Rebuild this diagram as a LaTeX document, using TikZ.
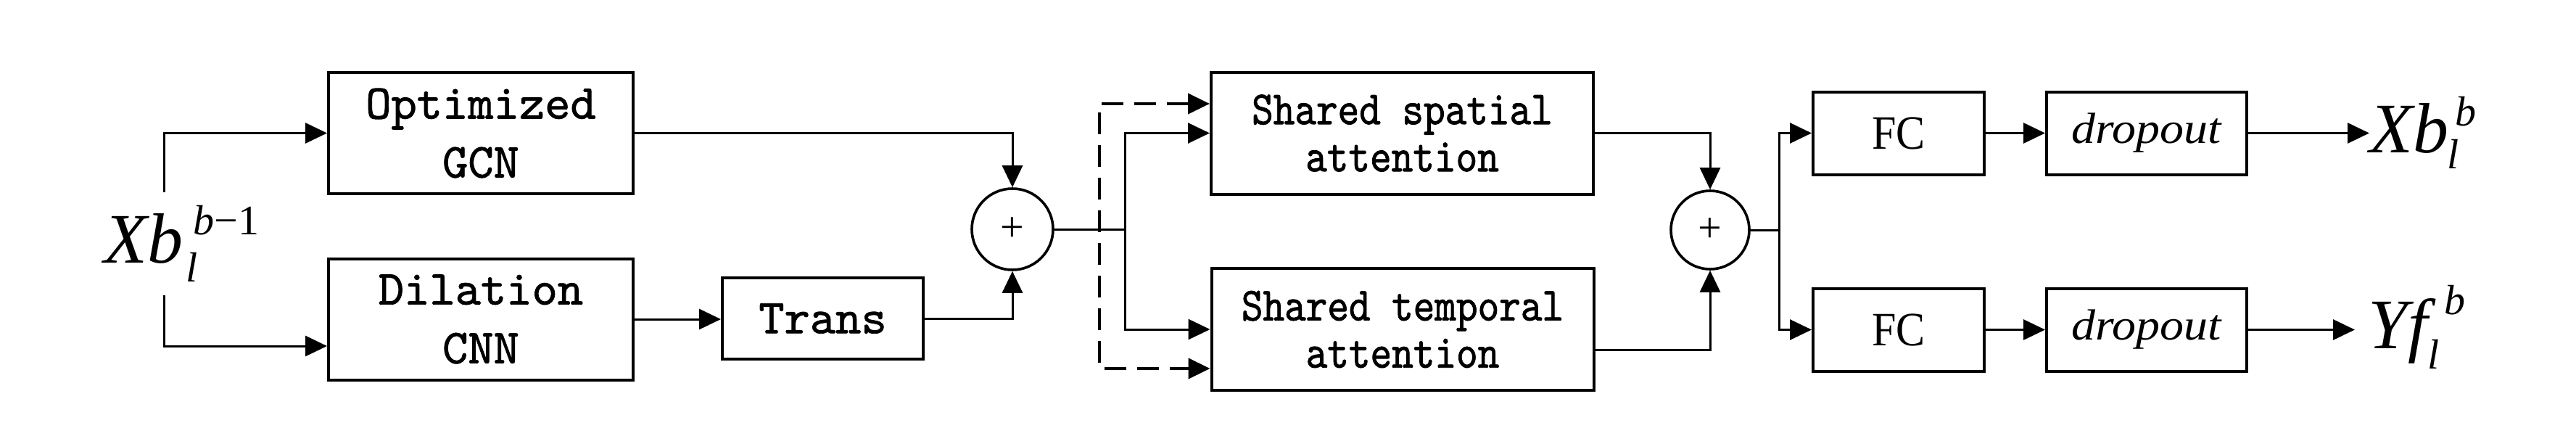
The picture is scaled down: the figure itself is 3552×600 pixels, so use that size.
\documentclass[tikz,border=0pt]{standalone}
\usepackage{fontspec}
\usetikzlibrary{arrows.meta,calc}
\newfontfamily\fcfont[FakeStretch=0.91]{Liberation Serif}
\newfontfamily\dofont[FakeStretch=1.1]{Liberation Serif}
\newfontfamily\labserif{Liberation Serif}
\newfontfamily\monobig{lmmono10-regular}[Extension=.otf,FakeStretch=1.0,FakeBold=1.2]
\newfontfamily\monosmall{lmmono10-regular}[Extension=.otf,FakeStretch=0.86,FakeBold=1.2]
\newcommand{\bigit}{\labserif\itshape\fontsize{24.5pt}{24.5pt}\selectfont}
\newcommand{\smit}{\labserif\itshape\fontsize{14.5pt}{14.5pt}\selectfont}
\newcommand{\smup}{\labserif\upshape\fontsize{14.5pt}{14.5pt}\selectfont}
\newcommand{\lbl}[7]{{\bigit #1}\rlap{\kern#6\raisebox{-#4}{\smit #2}}\kern#7\raisebox{#5}{#3}}
\begin{document}
\begin{tikzpicture}[x=0.25pt,y=-0.25pt,
  box/.style={draw, rectangle, line width=1pt, inner sep=0pt, align=center},
  bigbox/.style={box, minimum width=105pt, minimum height=41.75pt,
    font={\monobig\fontsize{16.8pt}{20.25pt}\selectfont}},
  attbox/.style={box, minimum width=131.75pt, minimum height=42pt,
    font={\monosmall\fontsize{16.4pt}{16.25pt}\selectfont}},
  fcbox/.style={box, minimum width=59pt, minimum height=28.5pt,
    font={\fcfont\fontsize{16.5pt}{16.5pt}\selectfont}},
  dobox/.style={box, minimum width=69pt, minimum height=28.5pt,
    font={\dofont\itshape\fontsize{15pt}{15pt}\selectfont}},
  sumnode/.style={draw, circle, line width=0.9pt, inner sep=0pt,
    font={\labserif\fontsize{14.5pt}{14.5pt}\selectfont}},
  lab/.style={inner sep=0pt, anchor=base west},
  tip/.tip={Triangle[length=7.5pt,width=7pt]},
  conn/.style={line width=0.75pt, -tip},
  plain/.style={line width=0.75pt},
  dsh/.style={line width=1.1pt, dash pattern=on 7.5pt off 3.75pt, tip-tip}]
\useasboundingbox[fill=white] (0,0) rectangle (3552,600);
% boxes
\node[bigbox] (gcn) at (663,183.5) {Optimized\\GCN};
\node[bigbox] (cnn) at (663,440) {Dilation\\CNN};
\node[box, minimum width=69.25pt, minimum height=28pt,
  font={\monobig\fontsize{16.8pt}{20.25pt}\selectfont}] (trans) at (1134.5,439) {Trans};
\node[attbox] (sp) at (1933.5,183.5) {Shared spatial\\attention};
\node[attbox] (tp) at (1934,454) {Shared temporal\\attention};
\node[sumnode, minimum size=28pt] (p1) at (1396,316) {+};
\node[sumnode, minimum size=27pt] (p2) at (2358,317) {+};
\node[fcbox] (fc1) at (2618,183.5) {FC};
\node[dobox] (do1) at (2960,183.5) {dropout};
\node[fcbox] (fc2) at (2618,454.5) {FC};
\node[dobox] (do2) at (2960,454.5) {dropout};
% labels
\node[lab] (in) at (143,362) {\lbl{Xb}{l}{{\smit b}{\smup −1}}{6.5pt}{9.75pt}{1pt}{3.5pt}};
\node[lab] (o1) at (3267,210) {\lbl{Xb}{l}{{\smit b}}{5.5pt}{9.25pt}{-0.5pt}{2.25pt}};
\node[lab] (o2) at (3265,480) {\lbl{Yf}{l}{{\smit b}}{7pt}{11.75pt}{0pt}{5.75pt}};
% connectors
\coordinate (inT) at (226,265);
\coordinate (inB) at (226,407);
\draw[conn] (inT) |- (gcn.west);
\draw[conn] (inB) |- ($(cnn.west)+(0,37)$);
\draw[conn] (cnn.east) -- (cnn.east -| trans.west);
\draw[conn] (gcn.east) -| (p1.north);
\draw[conn] (trans.east) -| (p1.south);
\coordinate (s1) at (1551,316);
\draw[plain] (p1.east) -- (s1);
\draw[conn] (s1) |- (sp.west);
\draw[conn] (s1) |- (tp.west);
\coordinate (d1) at (1516,143);
\coordinate (d2) at (1516,508);
\draw[dsh] (d1 -| sp.west) -- (d1) -- (d2) -- (d2 -| tp.west);
\draw[conn] (sp.east) -| (p2.north);
\draw[conn] ($(tp.east)+(0,28)$) -| (p2.south);
\coordinate (s2) at (2453,317);
\draw[plain] (p2.east) -- (s2);
\draw[conn] (s2) |- (fc1.west);
\draw[conn] (s2) |- (fc2.west);
\draw[conn] (fc1) -- (do1);
\draw[conn] (fc2) -- (do2);
\draw[conn] (do1.east) -- (do1.east -| o1.west);
\draw[conn] (do2.east) -- ($(do2.east -| o2.west)+(-18,0)$);
\end{tikzpicture}
\end{document}
